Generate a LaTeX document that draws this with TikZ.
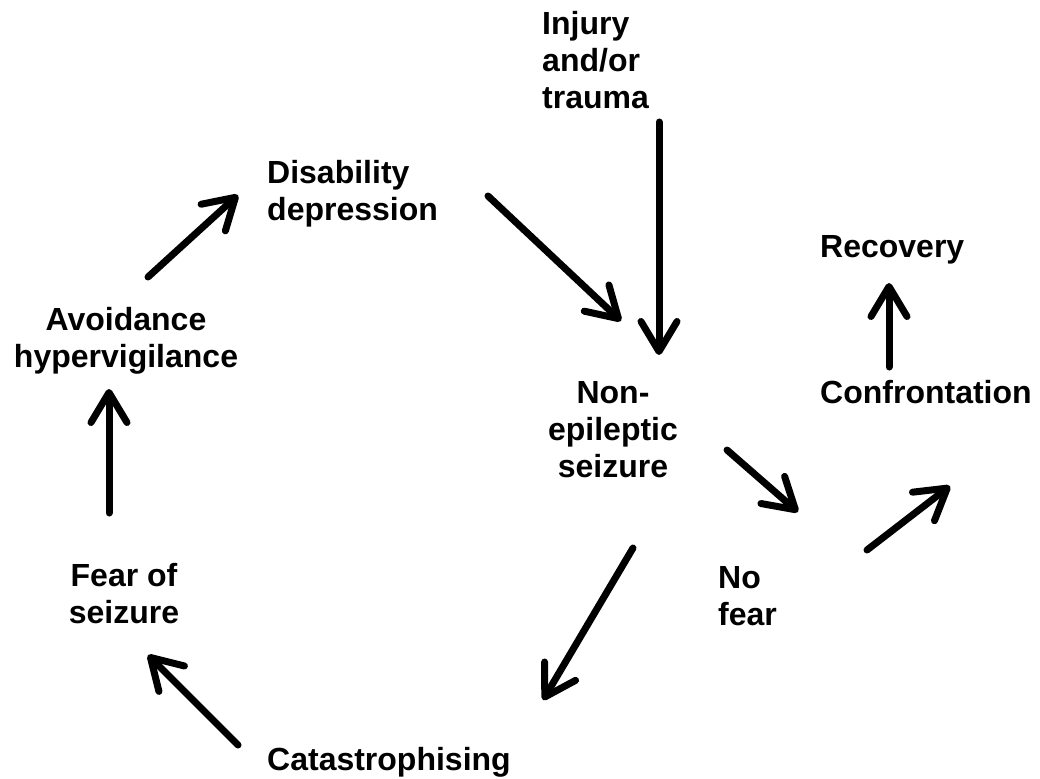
\documentclass[tikz,border=0pt]{standalone}
\usepackage{fontspec}
\setmainfont{Liberation Sans}
\usetikzlibrary{arrows.meta}
\begin{document}
\begin{tikzpicture}[x=1pt,y=-1pt,
  lbl/.style={inner sep=0pt, font=\bfseries\fontsize{32}{37}\selectfont},
  arr/.style={line width=7pt, line cap=round,
    -{Straight Barb[length=30pt,width=36pt,line width=7pt,round]}}]
\useasboundingbox (0,0) rectangle (1040,778);
% labels (multi-line nodes anchored at the baseline of their last line)
\node[lbl, anchor=base west, align=left] (inj) at (542,109) {Injury\\and/or\\trauma};
\node[lbl, anchor=base west, align=left] (dis) at (267,220) {Disability\\depression};
\node[lbl, anchor=base, align=center] (avo) at (126,367) {Avoidance\\hypervigilance};
\node[lbl, anchor=base west] (rec) at (820,257) {Recovery};
\node[lbl, anchor=base west] (conf) at (820,403) {Confrontation};
\node[lbl, anchor=base, align=center] (nes) at (613,477) {Non-\\epileptic\\seizure};
\node[lbl, anchor=base, align=center] (fear) at (124,623) {Fear of\\seizure};
\node[lbl, anchor=base west, align=left] (nof) at (718,625) {No\\fear};
\node[lbl, anchor=base west] (cat) at (267,770) {Catastrophising};
% arrow end points
\coordinate (injA) at (659,122); \coordinate (injB) at (659,355);
\coordinate (disA) at (488,196); \coordinate (disB) at (621,321);
\coordinate (nesA) at (727,450); \coordinate (nesB) at (798,512);
\coordinate (nofA) at (867,550); \coordinate (nofB) at (950,486);
\coordinate (conA) at (889,367); \coordinate (conB) at (889,283);
\coordinate (ncA) at (633,548); \coordinate (ncB) at (543,700);
\coordinate (catA) at (238,745); \coordinate (catB) at (148,655);
\coordinate (feaA) at (109,513); \coordinate (feaB) at (109,389);
\coordinate (avoA) at (148,277); \coordinate (avoB) at (238,195);
% arrows
\draw[arr] (injA) -- (injB);
\draw[arr] (disA) -- (disB);
\draw[arr] (nesA) -- (nesB);
\draw[arr] (nofA) -- (nofB);
\draw[arr] (conA) -- (conB);
\draw[arr] (ncA) -- (ncB);
\draw[arr] (catA) -- (catB);
\draw[arr] (feaA) -- (feaB);
\draw[arr] (avoA) -- (avoB);
\end{tikzpicture}
\end{document}
